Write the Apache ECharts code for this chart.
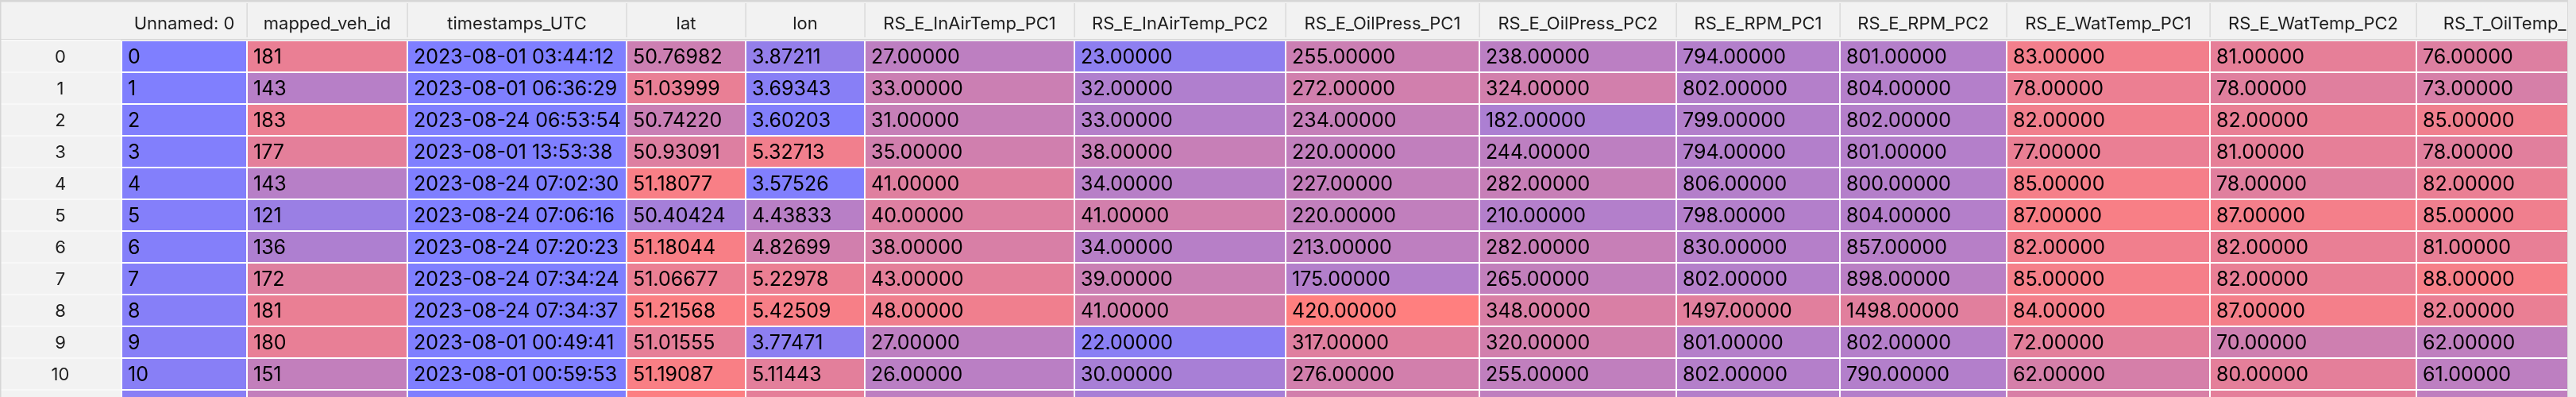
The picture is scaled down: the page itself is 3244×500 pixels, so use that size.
<!DOCTYPE html>
<html>
<head>
<meta charset="utf-8">
<script src="https://cdn.jsdelivr.net/npm/echarts@6.0.0/dist/echarts.min.js"></script>
<style>
  html, body { margin: 0; padding: 0; background: #ffffff; }
  #chart { width: 3244px; height: 500px; }
</style>
</head>
<body>
<div id="chart"></div>
<script>
  // column headers and row index of the frame
  var columns = ['Unnamed: 0', 'mapped_veh_id', 'timestamps_UTC', 'lat', 'lon',
    'RS_E_InAirTemp_PC1', 'RS_E_InAirTemp_PC2', 'RS_E_OilPress_PC1', 'RS_E_OilPress_PC2',
    'RS_E_RPM_PC1', 'RS_E_RPM_PC2', 'RS_E_WatTemp_PC1', 'RS_E_WatTemp_PC2', 'RS_T_OilTemp_PC1'];
  var rowIndex = [0, 1, 2, 3, 4, 5, 6, 7, 8, 9, 10, 11];

  // column values (row 11 is cut off at the bottom, estimated from its colours)
  var unnamed0 = [0, 1, 2, 3, 4, 5, 6, 7, 8, 9, 10, 11];
  var vehId = [181, 143, 183, 177, 143, 121, 136, 172, 181, 180, 151, 151];
  var timestamps = ['2023-08-01 03:44:12', '2023-08-01 06:36:29', '2023-08-24 06:53:54',
    '2023-08-01 13:53:38', '2023-08-24 07:02:30', '2023-08-24 07:06:16', '2023-08-24 07:20:23',
    '2023-08-24 07:34:24', '2023-08-24 07:34:37', '2023-08-01 00:49:41', '2023-08-01 00:59:53',
    '2023-08-01 01:10:05'];
  var lat = [50.76982, 51.03999, 50.74220, 50.93091, 51.18077, 50.40424, 51.18044, 51.06677,
    51.21568, 51.01555, 51.19087, 51.22000];
  var lon = [3.87211, 3.69343, 3.60203, 5.32713, 3.57526, 4.43833, 4.82699, 5.22978,
    5.42509, 3.77471, 5.11443, 5.15000];
  var inAirTemp1 = [27, 33, 31, 35, 41, 40, 38, 43, 48, 27, 26, 27];
  var inAirTemp2 = [23, 32, 33, 38, 34, 41, 34, 39, 41, 22, 30, 30];
  var oilPress1 = [255, 272, 234, 220, 227, 220, 213, 175, 420, 317, 276, 275];
  var oilPress2 = [238, 324, 182, 244, 282, 210, 282, 265, 348, 320, 255, 253];
  var rpm1 = [794, 802, 799, 794, 806, 798, 830, 802, 1497, 801, 802, 800];
  var rpm2 = [801, 804, 802, 801, 800, 804, 857, 898, 1498, 802, 790, 800];
  var watTemp1 = [83, 78, 82, 77, 85, 87, 82, 85, 84, 72, 62, 64];
  var watTemp2 = [81, 78, 82, 81, 78, 87, 82, 82, 87, 70, 80, 80];
  var oilTemp1 = [76, 73, 85, 78, 82, 85, 81, 88, 82, 62, 61, 62];

  // per column colour scale domain, null = text column
  var colourLo = [0, 101, null, 50.05, 3.55, 2, 19, 10, 16, 0, 0, 0, 35, 32];
  var colourHi = [140, 197, null, 51.25, 5.55, 54, 53, 420, 490, 1950, 1950, 92, 92, 92];
  var decimals = [0, 0, null, 5, 5, 5, 5, 5, 5, 5, 5, 5, 5, 5];

  var columnValues = [unnamed0, vehId, timestamps, lat, lon, inAirTemp1, inAirTemp2,
    oilPress1, oilPress2, rpm1, rpm2, watTemp1, watTemp2, oilTemp1];

  // layout: column pitch in px (index column first), row pitch 40px, header 50px
  var colWidths = [154, 158, 202, 276, 150, 150, 264, 266, 244, 248, 206, 210, 256, 260, 262];
  var colEdges = colWidths.reduce(function (acc, w) {
    acc.push(acc[acc.length - 1] + w);
    return acc;
  }, [0]);
  var HEADER_ROWS = 1.25, VISIBLE_ROWS = 11.25, GAP = 2, TABLE_W = 3234;
  var FONT = '"Inter", "Noto Sans", sans-serif';

  var cellData = [], cellLabels = [];
  columnValues.forEach(function (values, j) {
    values.forEach(function (v, r) {
      var t = colourLo[j] === null ? 0 : (v - colourLo[j]) / (colourHi[j] - colourLo[j]);
      cellData.push([j, r, Math.max(0, Math.min(1, t))]);
      cellLabels.push(decimals[j] === null ? v : v.toFixed(decimals[j]));
    });
  });

  function renderHeader(params, api) {
    var k = api.value(0);
    var p0 = api.coord([colEdges[k], -HEADER_ROWS]);
    var p1 = api.coord([colEdges[k + 1], 0]);
    var children = [{
      type: 'rect',
      shape: { x: p0[0], y: p0[1], width: p1[0] - p0[0], height: p1[1] - p0[1] },
      style: { fill: '#f2f2f2' }
    }, {
      type: 'rect',
      shape: { x: p0[0], y: p1[1] - 1, width: p1[0] - p0[0], height: 2 },
      style: { fill: '#dadada' }
    }];
    if (k >= 2) {
      children.push({
        type: 'rect',
        shape: { x: p0[0] - 1.5, y: p0[1] + 4, width: 1.2, height: p1[1] - p0[1] - 7 },
        style: { fill: '#d3d3d3' }
      });
    }
    if (k >= 1) {
      children.push({
        type: 'text',
        style: {
          text: columns[k - 1], x: (p0[0] + p1[0] - GAP) / 2, y: p0[1] + 30,
          align: 'center', verticalAlign: 'middle', fill: '#1d1d1d', font: '22px ' + FONT
        }
      });
    }
    return { type: 'group', children: children };
  }

  function renderIndex(params, api) {
    var r = api.value(0);
    var p0 = api.coord([colEdges[0], r]);
    var p1 = api.coord([colEdges[1], r + 1]);
    return {
      type: 'group',
      children: [{
        type: 'rect',
        shape: { x: p0[0], y: p0[1], width: p1[0] - p0[0] - GAP, height: p1[1] - p0[1] },
        style: { fill: '#f2f2f2' }
      }, {
        type: 'rect',
        shape: { x: p0[0], y: p0[1], width: p1[0] - p0[0] - GAP, height: GAP },
        style: { fill: '#f8f8f8' }
      }, {
        type: 'text',
        style: {
          text: String(rowIndex[r]), x: (p0[0] + p1[0] - GAP) / 2, y: (p0[1] + GAP + p1[1]) / 2 + 1,
          align: 'center', verticalAlign: 'middle', fill: '#1d1d1d', font: '22px ' + FONT
        }
      }]
    };
  }

  function renderCell(params, api) {
    var j = api.value(0), r = api.value(1);
    var p0 = api.coord([colEdges[j + 1], r]);
    var p1 = api.coord([colEdges[j + 2], r + 1]);
    return {
      type: 'group',
      children: [{
        type: 'rect',
        shape: { x: p0[0], y: p0[1] + GAP, width: p1[0] - p0[0] - GAP, height: p1[1] - p0[1] - GAP },
        style: { fill: api.visual('color') }
      }, {
        type: 'text',
        style: {
          text: String(cellLabels[params.dataIndex]), x: p0[0] + 7, y: (p0[1] + GAP + p1[1]) / 2 + 1,
          align: 'left', verticalAlign: 'middle', fill: '#000000', font: '25px ' + FONT
        }
      }]
    };
  }

  var chart = echarts.init(document.getElementById('chart'));
  chart.setOption({
    animation: false,
    grid: { left: 0, right: 10, top: 0, bottom: 0 },
    xAxis: { type: 'value', min: 0, max: TABLE_W, show: false },
    yAxis: { type: 'value', inverse: true, min: -HEADER_ROWS, max: VISIBLE_ROWS, show: false },
    visualMap: {
      type: 'continuous', show: false, seriesIndex: 2, dimension: 2, min: 0, max: 1,
      inRange: { color: ['#7f7fff', '#ff7f7f'] }
    },
    graphic: [
      { type: 'rect', z: 100, left: 0, top: 0, shape: { width: 3244, height: 2.5 }, style: { fill: '#d6d6d6' } },
      { type: 'rect', z: 100, left: 0, top: 0, shape: { width: 1.5, height: 500 }, style: { fill: '#d6d6d6' } },
      { type: 'rect', z: 100, right: 0, top: 0, shape: { width: 10, height: 500 }, style: { fill: '#ebebeb' } },
      { type: 'rect', z: 100, right: 10, top: 0, shape: { width: 1, height: 500 }, style: { fill: '#d9d9d9' } }
    ],
    series: [{
      type: 'custom', renderItem: renderHeader,
      data: colEdges.slice(0, -1).map(function (e, k) { return [k]; })
    }, {
      type: 'custom', renderItem: renderIndex,
      data: rowIndex.map(function (r) { return [r]; })
    }, {
      type: 'custom', renderItem: renderCell,
      dimensions: ['col', 'row', 't'],
      data: cellData
    }]
  });
</script>
</body>
</html>
